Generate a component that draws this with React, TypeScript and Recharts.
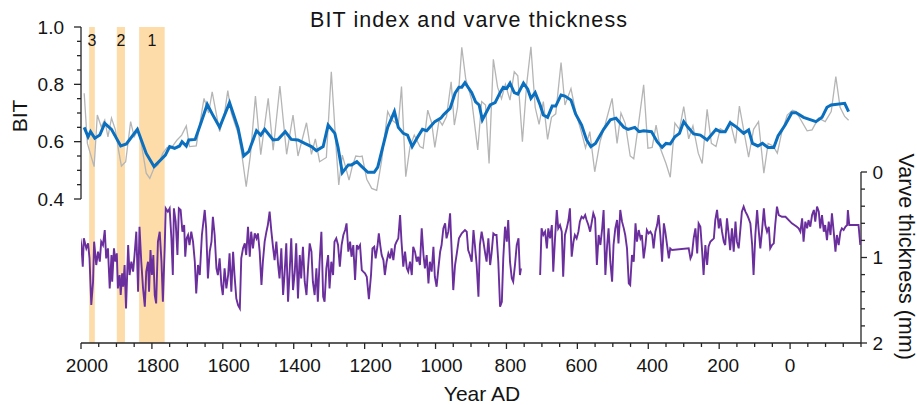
import { ComposedChart, Line, XAxis, YAxis, ReferenceArea, ReferenceLine } from 'recharts';

// BIT raw (grey)
const bitRawYears = [1991, 1982, 1963, 1954, 1943, 1933, 1924, 1914, 1903, 1894, 1886, 1874, 1860, 1850, 1839, 1830, 1816, 1806, 1794, 1783, 1769, 1757, 1744, 1729, 1716, 1703, 1694, 1675, 1653, 1640, 1630, 1609, 1595, 1586, 1576, 1557, 1548, 1534, 1522, 1508, 1493, 1472, 1458, 1439, 1420, 1402, 1388, 1364, 1350, 1339, 1327, 1308, 1294, 1280, 1273, 1263, 1254, 1244, 1235, 1225, 1213, 1207, 1194, 1180, 1166, 1152, 1135, 1124, 1105, 1096, 1084, 1072, 1060, 1044, 1035, 1022, 1011, 1002, 990, 981, 969, 956, 947, 938, 926, 915, 898, 881, 870, 859, 849, 837, 825, 814, 803, 790, 778, 768, 755, 743, 731, 719, 708, 696, 684, 673, 661, 646, 635, 618, 605, 590, 577, 565, 551, 536, 522, 502, 488, 477, 465, 451, 441, 426, 413, 401, 389, 378, 366, 350, 338, 325, 312, 300, 286, 274, 259, 248, 234, 222, 209, 197, 183, 169, 154, 143, 131, 117, 103, 89, 74, 62, 48, 36, 24, 8, -7, -17, -26, -48, -62, -80, -99, -116, -129, -141, -154, -165];
const bitRawValues = [0.769, 0.594, 0.513, 0.693, 0.652, 0.676, 0.617, 0.682, 0.641, 0.57, 0.515, 0.53, 0.67, 0.617, 0.641, 0.594, 0.49, 0.472, 0.508, 0.519, 0.56, 0.58, 0.58, 0.606, 0.623, 0.655, 0.583, 0.585, 0.751, 0.7, 0.774, 0.635, 0.7, 0.778, 0.7, 0.629, 0.57, 0.443, 0.555, 0.759, 0.555, 0.751, 0.57, 0.794, 0.556, 0.693, 0.55, 0.666, 0.556, 0.61, 0.53, 0.545, 0.844, 0.57, 0.449, 0.553, 0.513, 0.466, 0.513, 0.55, 0.548, 0.55, 0.469, 0.437, 0.43, 0.535, 0.705, 0.676, 0.658, 0.792, 0.478, 0.583, 0.623, 0.583, 0.577, 0.71, 0.666, 0.58, 0.676, 0.658, 0.688, 0.809, 0.658, 0.72, 0.929, 0.82, 0.745, 0.571, 0.74, 0.728, 0.524, 0.887, 0.79, 0.75, 0.8, 0.745, 0.844, 0.83, 0.6, 0.8, 0.931, 0.72, 0.66, 0.74, 0.608, 0.685, 0.697, 0.876, 0.728, 0.785, 0.705, 0.64, 0.578, 0.635, 0.495, 0.6, 0.658, 0.751, 0.594, 0.7, 0.664, 0.55, 0.54, 0.676, 0.798, 0.577, 0.58, 0.658, 0.577, 0.524, 0.476, 0.665, 0.643, 0.722, 0.61, 0.655, 0.56, 0.524, 0.713, 0.594, 0.583, 0.645, 0.635, 0.67, 0.594, 0.724, 0.641, 0.546, 0.643, 0.67, 0.49, 0.594, 0.585, 0.56, 0.63, 0.693, 0.71, 0.705, 0.685, 0.638, 0.641, 0.682, 0.67, 0.705, 0.827, 0.72, 0.688, 0.675];

// BIT smoothed (blue)
const bitSmoothYears = [1991, 1980, 1973, 1961, 1947, 1933, 1914, 1888, 1872, 1841, 1816, 1794, 1762, 1750, 1736, 1722, 1715, 1703, 1696, 1678, 1662, 1644, 1630, 1609, 1581, 1557, 1541, 1527, 1505, 1493, 1482, 1458, 1444, 1424, 1407, 1388, 1369, 1350, 1336, 1317, 1303, 1284, 1275, 1263, 1246, 1237, 1222, 1208, 1191, 1173, 1163, 1135, 1116, 1105, 1091, 1079, 1066, 1050, 1037, 1025, 1002, 985, 978, 959, 945, 934, 926, 917, 898, 887, 877, 868, 846, 832, 818, 809, 799, 790, 778, 768, 752, 740, 731, 719, 705, 696, 684, 671, 661, 646, 635, 618, 605, 588, 574, 562, 549, 526, 507, 491, 469, 457, 438, 426, 413, 391, 375, 361, 350, 338, 325, 312, 300, 288, 272, 253, 234, 209, 197, 183, 169, 150, 131, 117, 106, 91, 78, 62, 46, 34, 14, -5, -17, -38, -73, -90, -104, -116, -154, -165];
const bitSmoothValues = [0.65, 0.617, 0.635, 0.612, 0.623, 0.664, 0.643, 0.585, 0.592, 0.643, 0.559, 0.513, 0.553, 0.583, 0.577, 0.585, 0.6, 0.585, 0.606, 0.608, 0.664, 0.73, 0.697, 0.65, 0.736, 0.647, 0.55, 0.565, 0.638, 0.623, 0.643, 0.606, 0.608, 0.635, 0.608, 0.606, 0.594, 0.583, 0.569, 0.583, 0.658, 0.629, 0.58, 0.492, 0.519, 0.519, 0.53, 0.513, 0.493, 0.493, 0.511, 0.65, 0.705, 0.65, 0.629, 0.623, 0.583, 0.617, 0.643, 0.638, 0.67, 0.682, 0.693, 0.716, 0.769, 0.79, 0.79, 0.806, 0.771, 0.739, 0.728, 0.676, 0.728, 0.736, 0.771, 0.79, 0.786, 0.804, 0.771, 0.766, 0.804, 0.783, 0.751, 0.771, 0.728, 0.693, 0.685, 0.724, 0.724, 0.763, 0.759, 0.745, 0.697, 0.658, 0.606, 0.583, 0.594, 0.643, 0.676, 0.682, 0.65, 0.643, 0.65, 0.635, 0.638, 0.635, 0.6, 0.58, 0.594, 0.592, 0.617, 0.629, 0.67, 0.65, 0.627, 0.623, 0.606, 0.643, 0.635, 0.635, 0.666, 0.65, 0.629, 0.641, 0.594, 0.585, 0.594, 0.58, 0.58, 0.62, 0.658, 0.701, 0.701, 0.685, 0.67, 0.685, 0.72, 0.728, 0.734, 0.705];

// Varve thickness (mm), null marks the data gap
const varveYears = [2002, 1999, 1995, 1992, 1985, 1980, 1976, 1971, 1966, 1963, 1957, 1952, 1947, 1943, 1938, 1933, 1929, 1924, 1919, 1914, 1912, 1907, 1903, 1899, 1896, 1891, 1888, 1884, 1881, 1877, 1873, 1867, 1863, 1858, 1853, 1849, 1844, 1839, 1835, 1830, 1825, 1820, 1816, 1811, 1808, 1804, 1800, 1796, 1792, 1788, 1783, 1778, 1773, 1769, 1764, 1761, 1755, 1750, 1745, 1741, 1738, 1733, 1728, 1724, 1719, 1714, 1709, 1706, 1702, 1698, 1694, 1689, 1684, 1679, 1675, 1670, 1665, 1659, 1651, 1647, 1642, 1637, 1632, 1628, 1623, 1618, 1614, 1609, 1604, 1600, 1595, 1590, 1585, 1581, 1576, 1571, 1567, 1562, 1557, 1552, 1548, 1543, 1538, 1534, 1529, 1524, 1520, 1515, 1510, 1505, 1501, 1496, 1491, 1487, 1482, 1477, 1473, 1468, 1463, 1458, 1454, 1449, 1444, 1440, 1435, 1430, 1426, 1421, 1416, 1412, 1407, 1402, 1397, 1393, 1388, 1383, 1379, 1374, 1369, 1364, 1360, 1355, 1350, 1346, 1341, 1336, 1332, 1327, 1322, 1317, 1313, 1308, 1303, 1299, 1294, 1289, 1285, 1280, 1275, 1270, 1265, 1260, 1255, 1251, 1246, 1241, 1237, 1232, 1227, 1222, 1218, 1213, 1208, 1204, 1199, 1194, 1188, 1182, 1178, 1173, 1169, 1164, 1160, 1156, 1152, 1147, 1143, 1138, 1133, 1128, 1124, 1119, 1114, 1110, 1105, 1100, 1096, 1091, 1086, 1081, 1077, 1072, 1067, 1063, 1058, 1053, 1049, 1044, 1039, 1034, 1030, 1025, 1020, 1016, 1011, 1006, 1002, 997, 992, 987, 983, 978, 973, 969, 964, 959, 954, 950, 945, 940, 934, 926, 917, 912, 908, 903, 898, 893, 889, 884, 879, 875, 870, 865, 860, 856, 851, 846, 842, 837, 832, 828, 823, 818, 813, 809, 804, 799, 795, 790, 785, 781, 776, 771, 766, 762, 759, 732, 705, 701, 696, 691, 686, 682, 677, 672, 668, 663, 658, 654, 649, 644, 640, 635, 630, 625, 621, 616, 611, 607, 602, 597, 593, 588, 583, 578, 574, 569, 564, 560, 555, 550, 545, 540, 535, 530, 526, 521, 516, 512, 507, 502, 498, 493, 488, 484, 479, 474, 469, 465, 460, 455, 451, 446, 441, 436, 432, 427, 422, 418, 413, 408, 404, 399, 394, 389, 385, 380, 375, 371, 366, 361, 356, 352, 347, 342, 338, 333, 286, 281, 277, 272, 267, 262, 258, 253, 248, 244, 239, 234, 230, 225, 220, 215, 211, 206, 201, 197, 192, 187, 183, 178, 173, 169, 164, 159, 154, 150, 145, 140, 136, 131, 126, 121, 117, 112, 107, 103, 98, 93, 89, 84, 79, 74, 70, 65, 60, 56, 51, 46, 42, 37, 32, 23, 13, -5, -19, -24, -29, -34, -38, -43, -48, -52, -57, -62, -67, -71, -76, -81, -85, -90, -95, -99, -104, -109, -114, -118, -123, -128, -132, -137, -142, -146, -151, -156, -161, -163, -167, -193, -198];
const varveValues: (number | null)[] = [0.776, 0.854, 1.107, 0.776, 0.893, 0.835, 1.01, 1.556, 1.283, 0.815, 1.088, 0.932, 1.049, 0.815, 0.854, 0.679, 1.01, 0.893, 1.361, 0.971, 1.283, 0.893, 1.049, 0.952, 1.361, 1.205, 1.439, 1.186, 1.342, 1.088, 1.595, 0.854, 1.205, 1.049, 1.166, 0.971, 0.698, 1.4, 0.64, 1.049, 1.361, 1.575, 1.166, 1.049, 1.4, 0.913, 1.205, 0.971, 1.439, 1.537, 0.815, 0.698, 1.049, 1.517, 0.893, 0.425, 0.464, 0.425, 0.776, 1.205, 0.425, 0.581, 0.971, 0.425, 0.444, 0.698, 0.62, 0.991, 0.776, 0.737, 0.854, 0.698, 0.815, 1.049, 1.42, 1.088, 1.205, 0.737, 0.444, 0.659, 1.244, 0.932, 0.815, 0.523, 0.737, 1.127, 1.205, 1.01, 1.322, 1.439, 1.127, 1.361, 1.205, 0.952, 1.4, 0.932, 1.205, 1.478, 1.556, 1.595, 1.01, 0.893, 0.835, 0.971, 0.64, 0.991, 0.698, 0.893, 0.718, 0.776, 0.718, 0.932, 1.322, 1.049, 0.815, 0.698, 0.62, 0.464, 0.698, 0.893, 1.03, 0.815, 1.088, 1.244, 0.893, 1.439, 1.205, 0.835, 1.517, 1.205, 0.776, 1.381, 1.166, 0.835, 1.478, 0.971, 1.244, 0.874, 1.283, 1.439, 1.147, 0.835, 0.932, 1.283, 1.439, 1.127, 1.517, 1.049, 0.698, 1.458, 1.517, 1.127, 0.971, 1.361, 1.049, 1.205, 0.815, 0.776, 0.854, 1.107, 0.854, 0.737, 0.679, 0.601, 0.932, 0.815, 0.991, 0.854, 1.264, 0.854, 0.893, 0.854, 1.147, 1.166, 1.186, 1.225, 1.486, 1.205, 0.893, 0.874, 1.01, 0.874, 0.718, 0.854, 0.971, 1.03, 1.205, 1.049, 0.952, 1.01, 0.893, 1.03, 0.854, 0.815, 0.776, 0.503, 0.815, 1.107, 0.932, 1.127, 1.166, 1.049, 1.205, 0.874, 0.932, 1.049, 0.991, 1.088, 0.659, 0.971, 1.127, 0.971, 1.303, 1.049, 1.166, 0.874, 1.225, 1.342, 1.127, 0.932, 0.854, 0.659, 0.601, 0.776, 0.698, 0.483, 0.971, 1.381, 1.088, 0.952, 0.776, 0.718, 0.679, 0.698, 0.913, 0.971, 1.049, 0.679, 0.854, 1.088, 1.458, 0.854, 0.698, 0.815, 0.952, 1.049, 0.776, 1.088, 0.952, 0.718, 0.737, 0.737, 1.049, 1.575, 1.517, 1.01, 0.64, 0.815, 0.562, 1.049, 1.244, 1.283, 1.088, 0.854, 0.776, 1.205, 1.127, null, 1.205, 0.659, 0.737, 0.698, 0.893, 0.659, 0.776, 0.62, 1.166, 0.776, 0.444, 0.659, 0.62, 0.698, 1.225, 0.737, 0.659, 0.562, 0.425, 0.991, 0.815, 0.737, 0.776, 0.698, 0.581, 0.523, 0.542, 0.503, 0.562, 0.62, 0.698, 0.601, 0.483, 0.542, 1.088, 0.737, 0.854, 0.659, 0.444, 1.205, 0.854, 0.659, 1.049, 1.283, 0.854, 0.659, 0.562, 0.835, 0.444, 0.581, 0.659, 0.737, 0.893, 1.303, 1.322, 0.971, 1.049, 0.601, 0.815, 0.679, 0.776, 0.737, 1.01, 0.854, 0.679, 0.718, 0.698, 0.737, 0.893, 0.698, 0.62, 0.503, 0.737, 1.049, 0.601, 0.698, 0.854, 1.01, 0.893, 0.913, 0.893, 1.01, 0.971, 0.776, 0.659, 0.952, 0.601, 0.64, 0.932, 1.205, 0.854, 1.088, 0.874, 0.815, 0.796, 0.776, 0.562, 0.444, 0.659, 0.542, 0.698, 0.815, 0.854, 0.542, 0.737, 0.913, 0.659, 0.932, 0.581, 0.815, 0.893, 0.659, 0.464, 0.405, 0.464, 0.503, 0.542, 0.601, 0.854, 1.205, 0.737, 0.444, 0.659, 0.893, 0.679, 0.425, 0.62, 0.698, 0.64, 0.893, 0.854, 0.835, 0.62, 0.405, 0.503, 0.523, 0.523, 0.601, 0.64, 0.659, 0.698, 0.542, 0.815, 0.581, 0.659, 0.562, 0.64, 0.503, 0.444, 0.581, 0.405, 0.464, 0.659, 0.503, 0.698, 0.62, 0.796, 0.581, 0.737, 0.483, 0.698, 0.932, 0.737, 0.854, 0.698, 0.659, 0.679, 0.64, 0.62, 0.444, 0.62, 0.62, 0.854];

// highlighted intervals (years)
const bandLabels = ['3', '2', '1'];
const bandStarts = [1977, 1899, 1836];
const bandEnds = [1961, 1876, 1764];

const xTicks = [2000, 1950, 1900, 1850, 1800, 1750, 1700, 1650, 1600, 1550, 1500, 1450, 1400, 1350, 1300, 1250, 1200, 1150, 1100, 1050, 1000, 950, 900, 850, 800, 750, 700, 650, 600, 550, 500, 450, 400, 350, 300, 250, 200, 150, 100, 50, 0, -50, -100, -150, -200];
const xLabelTicks = [2000, 1800, 1600, 1400, 1200, 1000, 800, 600, 400, 200, 0];
const bitTicks = [0.4, 0.45, 0.5, 0.55, 0.6, 0.65, 0.7, 0.75, 0.8, 0.85, 0.9, 0.95, 1.0];
const bitLabelTicks = [0.4, 0.6, 0.8, 1.0];
const varveTicks = [0, 0.2, 0.4, 0.6, 0.8, 1, 1.2, 1.4, 1.6, 1.8, 2];
const varveLabelTicks = [0, 1, 2];

const rawData = bitRawYears.map((year, i) => ({ year, v: bitRawValues[i] }));
const smoothData = bitSmoothYears.map((year, i) => ({ year, v: bitSmoothValues[i] }));
const varveData = varveYears.map((year, i) => ({ year, v: varveValues[i] }));

const AXIS = '#262626';
const TEXT = '#141414';
const FONT = '"Liberation Sans", Arial, Helvetica, sans-serif';
const near = (a: number, list: number[]) => list.some(b => Math.abs(a - b) < 1e-6);

function XTick({ x, y, payload }: any) {
  const v = payload.value;
  const major = near(v, xLabelTicks);
  const label = String(v);
  return (
    <g>
      <line x1={x} x2={x} y1={y} y2={y + (major ? 6 : 4)} stroke={AXIS} strokeWidth={1.3} />
      {major && (
        <text x={x + (label.length - 1) * 2} y={y + 28.7} textAnchor="middle" fontSize={19} fill={TEXT}>
          {label}
        </text>
      )}
    </g>
  );
}

function BitTick({ x, y, payload }: any) {
  const v = payload.value;
  const major = near(v, bitLabelTicks);
  return (
    <g>
      <line x1={x - (major ? 7 : 4)} x2={x} y1={y} y2={y} stroke={AXIS} strokeWidth={1.3} />
      {major && (
        <text x={x - 17} y={y + 6.5} textAnchor="end" fontSize={19} fill={TEXT}>
          {v.toFixed(1)}
        </text>
      )}
    </g>
  );
}

function VarveTick({ x, y, payload }: any) {
  const v = payload.value;
  const major = near(v, varveLabelTicks);
  return (
    <g>
      <line x1={x} x2={x + (major ? 6 : 4)} y1={y} y2={y} stroke={AXIS} strokeWidth={1.3} />
      {major && (
        <text x={x + 11.5} y={y + 6.5} textAnchor="start" fontSize={19} fill={TEXT}>
          {String(Math.round(v))}
        </text>
      )}
    </g>
  );
}

export default function App() {
  return (
    <div style={{ position: 'absolute', left: 0, top: 0, width: 917, height: 405, background: '#fff', fontFamily: FONT }}>
      <ComposedChart width={917} height={405} margin={{ top: 27, right: 0, bottom: 0, left: 0 }}>
        <XAxis
          dataKey="year"
          type="number"
          domain={[-200, 2000]}
          reversed
          allowDataOverflow
          ticks={xTicks}
          interval={0}
          tickSize={0}
          tickMargin={0}
          tickLine={false}
          tick={<XTick />}
          axisLine={{ stroke: AXIS, strokeWidth: 1.3 }}
          height={62}
        />
        <YAxis
          yAxisId="bit"
          type="number"
          domain={[-0.1023, 1.0]}
          allowDataOverflow
          ticks={bitTicks}
          interval={0}
          tickSize={0}
          tickMargin={0}
          tickLine={false}
          axisLine={false}
          tick={<BitTick />}
          width={81}
        />
        <YAxis
          yAxisId="varve"
          orientation="right"
          type="number"
          domain={[-1.696, 2]}
          reversed
          allowDataOverflow
          ticks={varveTicks}
          interval={0}
          tickSize={0}
          tickMargin={0}
          tickLine={false}
          axisLine={false}
          tick={<VarveTick />}
          width={56}
        />
        {bandLabels.map((lab, i) => (
          <ReferenceArea
            key={lab}
            yAxisId="bit"
            x1={bandStarts[i]}
            x2={bandEnds[i]}
            fill="#fddca9"
            fillOpacity={1}
            stroke="none"
            label={{ value: lab, position: 'insideTop', offset: 8, fontSize: 16, fill: TEXT }}
          />
        ))}
        <ReferenceLine
          yAxisId="bit"
          segment={[{ x: 2000, y: 0.4 }, { x: 2000, y: 1.0 }]}
          stroke={AXIS}
          strokeWidth={1.3}
        />
        <ReferenceLine
          yAxisId="varve"
          segment={[{ x: -200, y: 0 }, { x: -200, y: 2 }]}
          stroke={AXIS}
          strokeWidth={1.3}
        />
        <Line data={rawData} dataKey="v" yAxisId="bit" type="linear" stroke="#b5b5b5" strokeWidth={1.3} dot={false} isAnimationActive={false} />
        <Line data={smoothData} dataKey="v" yAxisId="bit" type="linear" stroke="#0a6fbe" strokeWidth={3} dot={false} isAnimationActive={false} />
        <Line data={varveData} dataKey="v" yAxisId="varve" type="linear" stroke="#6a2f9c" strokeWidth={1.9} dot={false} isAnimationActive={false} />
      </ComposedChart>
      <svg width={917} height={405} style={{ position: 'absolute', left: 0, top: 0, pointerEvents: 'none' }}>
        <text x={310} y={26.7} fontSize={21.5} fill={TEXT} textLength={317} lengthAdjust="spacing">
          BIT index and varve thickness
        </text>
        <text x={482} y={401} fontSize={21} fill={TEXT} textAnchor="middle">
          Year AD
        </text>
        <text x={26.7} y={116} fontSize={21} fill={TEXT} textAnchor="middle" transform="rotate(-90 26.7 116)">
          BIT
        </text>
        <text x={899} y={256.7} fontSize={21.5} fill={TEXT} textAnchor="middle" transform="rotate(90 899 256.7)">
          Varve thickness (mm)
        </text>
      </svg>
    </div>
  );
}
